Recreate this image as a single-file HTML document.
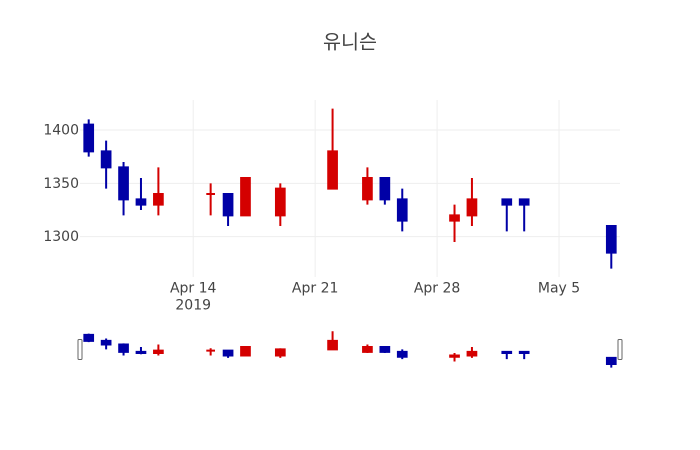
<!DOCTYPE html>
<html>
<head>
<meta charset="utf-8">
<style>
  html, body { margin: 0; padding: 0; background: #fff; }
  svg { display: block; }
  .i { fill: #d40000; stroke: #d40000; stroke-width: 2; }
  .d { fill: #0000a6; stroke: #0000a6; stroke-width: 2; }
  .g { stroke: #eeeeee; stroke-width: 1; }
  .t { font-family: "DejaVu Sans", "Liberation Sans", sans-serif; font-size: 14px; fill: #444; }
</style>
</head>
<body>
<svg width="700" height="450" viewBox="0 0 700 450" xmlns="http://www.w3.org/2000/svg">
  <rect x="0" y="0" width="700" height="450" fill="#fff"/>

  <!-- gridlines -->
  <g class="g">
    <line x1="193.2" y1="100" x2="193.2" y2="277"/>
    <line x1="315.16" y1="100" x2="315.16" y2="277"/>
    <line x1="437.1" y1="100" x2="437.1" y2="277"/>
    <line x1="559.03" y1="100" x2="559.03" y2="277"/>
    <line x1="80" y1="130" x2="620" y2="130"/>
    <line x1="80" y1="183.33" x2="620" y2="183.33"/>
    <line x1="80" y1="236.67" x2="620" y2="236.67"/>
  </g>

  <!-- main candles -->
  <g>
    <path class="d" d="M88.71,119.33V156.67M84.36,124.67H93.06V151.33H84.36Z"/>
    <path class="d" d="M106.13,140.67V188.67M101.78,151.33H110.48V167.33H101.78Z"/>
    <path class="d" d="M123.55,162V215.33M119.2,167.33H127.9V199.33H119.2Z"/>
    <path class="d" d="M140.97,178V210M136.62,199.33H145.32V204.67H136.62Z"/>
    <path class="i" d="M158.39,167.33V215.33M154.04,194H162.74V204.67H154.04Z"/>
    <path class="i" d="M210.65,183.33V215.33M206.3,194H215V194H206.3Z"/>
    <path class="d" d="M228.07,194V226M223.72,194H232.42V215.33H223.72Z"/>
    <path class="i" d="M245.48,178V215.33M241.13,178H249.83V215.33H241.13Z"/>
    <path class="i" d="M280.32,183.33V226M275.97,188.67H284.67V215.33H275.97Z"/>
    <path class="i" d="M332.58,108.67V188.67M328.23,151.33H336.93V188.67H328.23Z"/>
    <path class="i" d="M367.42,167.33V204.67M363.07,178H371.77V199.33H363.07Z"/>
    <path class="d" d="M384.84,178V204.67M380.49,178H389.19V199.33H380.49Z"/>
    <path class="d" d="M402.26,188.67V231.33M397.91,199.33H406.61V220.67H397.91Z"/>
    <path class="i" d="M454.52,204.67V242M450.17,215.33H458.87V220.67H450.17Z"/>
    <path class="i" d="M471.94,178V226M467.59,199.33H476.29V215.33H467.59Z"/>
    <path class="d" d="M506.77,199.33V231.33M502.42,199.33H511.12V204.67H502.42Z"/>
    <path class="d" d="M524.19,199.33V231.33M519.84,199.33H528.54V204.67H519.84Z"/>
    <path class="d" d="M611.29,226V268.67M606.94,226H615.64V252.67H606.94Z"/>
  </g>

  <!-- y tick labels -->
  <text class="t" x="79" y="134.5" text-anchor="end">1400</text>
  <text class="t" x="79" y="187.8" text-anchor="end">1350</text>
  <text class="t" x="79" y="241.2" text-anchor="end">1300</text>

  <!-- x tick labels -->
  <text class="t" x="193.2" y="292.5" text-anchor="middle">Apr 14</text>
  <text class="t" x="193.2" y="309.5" text-anchor="middle">2019</text>
  <text class="t" x="315.16" y="292.5" text-anchor="middle">Apr 21</text>
  <text class="t" x="437.1" y="292.5" text-anchor="middle">Apr 28</text>
  <text class="t" x="559.03" y="292.5" text-anchor="middle">May 5</text>

  <!-- range slider candles -->
  <g>
    <path class="d" d="M88.71,333.63V342.12M84.36,334.84H93.06V340.91H84.36Z"/>
    <path class="d" d="M106.13,338.48V349.4M101.78,340.91H110.48V344.55H101.78Z"/>
    <path class="d" d="M123.55,343.34V355.47M119.2,344.55H127.9V351.83H119.2Z"/>
    <path class="d" d="M140.97,346.98V354.26M136.62,351.83H145.32V353.04H136.62Z"/>
    <path class="i" d="M158.39,344.55V355.47M154.04,350.62H162.74V353.04H154.04Z"/>
    <path class="i" d="M210.65,348.19V355.47M206.3,350.62H215V350.62H206.3Z"/>
    <path class="d" d="M228.07,350.62V357.9M223.72,350.62H232.42V355.47H223.72Z"/>
    <path class="i" d="M245.48,346.98V355.47M241.13,346.98H249.83V355.47H241.13Z"/>
    <path class="i" d="M280.32,348.19V357.9M275.97,349.4H284.67V355.47H275.97Z"/>
    <path class="i" d="M332.58,331.2V349.4M328.23,340.91H336.93V349.4H328.23Z"/>
    <path class="i" d="M367.42,344.55V353.04M363.07,346.98H371.77V351.83H363.07Z"/>
    <path class="d" d="M384.84,346.98V353.04M380.49,346.98H389.19V351.83H380.49Z"/>
    <path class="d" d="M402.26,349.4V359.11M397.91,351.83H406.61V356.69H397.91Z"/>
    <path class="i" d="M454.52,353.04V361.54M450.17,355.47H458.87V356.69H450.17Z"/>
    <path class="i" d="M471.94,346.98V357.9M467.59,351.83H476.29V355.47H467.59Z"/>
    <path class="d" d="M506.77,351.83V359.11M502.42,351.83H511.12V353.04H502.42Z"/>
    <path class="d" d="M524.19,351.83V359.11M519.84,351.83H528.54V353.04H519.84Z"/>
    <path class="d" d="M611.29,357.9V367.6M606.94,357.9H615.64V363.96H606.94Z"/>
  </g>

  <!-- range slider handles -->
  <rect x="78" y="339.5" width="4" height="20" rx="1" ry="1" fill="#fff" stroke="#666" stroke-width="1"/>
  <rect x="618" y="339.5" width="4" height="20" rx="1" ry="1" fill="#fff" stroke="#666" stroke-width="1"/>

  <!-- title -->
  <text x="350" y="48.5" text-anchor="middle" style="font-family: 'Liberation Sans', 'Noto Sans CJK KR', sans-serif; font-size: 19.6px; fill: #444;">유니슨</text>
</svg>
</body>
</html>
